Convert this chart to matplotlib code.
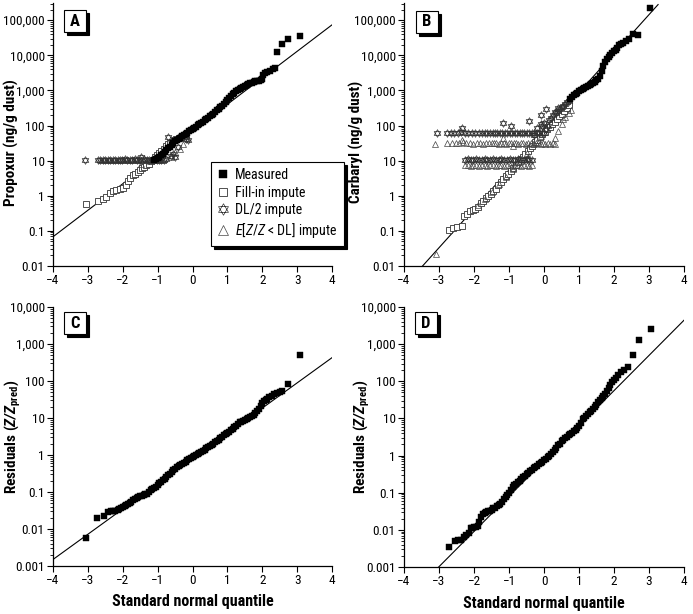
import matplotlib
matplotlib.use('Agg')
import matplotlib.pyplot as plt
from matplotlib import font_manager
from matplotlib.path import Path
from matplotlib.patches import Rectangle
from matplotlib.ticker import LogLocator, NullFormatter
from matplotlib.transforms import offset_copy

# ---------------- data ----------------
x_ticks = [-4, -3, -2, -1, 0, 1, 2, 3, 4]
x_tick_labels = ['\u22124', '\u22123', '\u22122', '\u22121', '0', '1', '2', '3', '4']
y_ticks_ab = [0.01, 0.1, 1, 10, 100, 1000, 10000, 100000]
y_labels_ab = ['0.01', '0.1', '1', '10', '100', '1,000', '10,000', '100,000']
y_ticks_cd = [0.001, 0.01, 0.1, 1, 10, 100, 1000, 10000]
y_labels_cd = ['0.001', '0.01', '0.1', '1', '10', '100', '1,000', '10,000']
legend_labels = ['Measured', 'Fill-in impute', 'DL/2 impute',
                 r'$\mathit{E}$[$\mathit{Z/Z}$ < DL] impute']

# Panel A (propoxur)
line_a_x = [-4, 4]
line_a_y = [0.068, 74000]
meas_a_x = [-1.10, -1.05, -1.00, -0.95, -0.90, -0.85, -0.80, -0.75, -0.70, -0.65, -0.60, -0.55,
            -0.50, -0.45, -0.40, -0.35, -0.30, -0.25, -0.20, -0.15, -0.10, -0.05, 0.00, 0.05,
            0.10, 0.15, 0.20, 0.25, 0.30, 0.35, 0.40, 0.45, 0.50, 0.55, 0.60, 0.65, 0.70, 0.75,
            0.80, 0.85, 0.90, 0.95, 1.00, 1.05, 1.10, 1.15, 1.20, 1.25, 1.30, 1.35, 1.40, 1.45,
            1.50, 1.55, 1.60, 1.65, 1.70, 1.75, 1.80, 1.85, 1.90, 1.95, 2.00, 2.03, 2.08, 2.15,
            2.22, 2.30, 2.37, 2.43, 2.57, 2.74, 3.09]
meas_a_y = [10.5, 11.2, 12.0, 12.9, 14.1, 15.8, 17.8, 20.0, 22.4, 25.1, 28.2, 31.6,
            35.5, 38.9, 42.7, 45.7, 50, 54, 59, 63, 69, 74, 79, 87,
            93, 102, 110, 120, 129, 141, 151, 166, 182, 200, 219, 245, 269, 302,
            331, 372, 417, 479, 537, 617, 692, 776, 851, 955, 1050, 1120, 1200, 1260,
            1320, 1410, 1480, 1580, 1660, 1740, 1820, 1860, 1910, 2000, 2140, 2820, 3160, 3390,
            3630, 3980, 4470, 12600, 20400, 30200, 36300]
fill_a_x = [-3.06, -2.71, -2.58, -2.47, -2.38, -2.28, -2.18, -2.09, -2.00, -1.92, -1.85, -1.78,
            -1.71, -1.64, -1.57, -1.51, -1.44, -1.38, -1.32, -1.25, -1.19, -1.13, -1.07, -1.01,
            -0.95, -0.89, -0.83, -0.77, -0.71, -0.65, -0.59, -0.53, -0.46, -0.39, -0.32, -0.25, -0.18]
fill_a_y = [0.57, 0.70, 0.82, 0.93, 1.2, 1.35, 1.5, 1.6, 1.65, 2.0, 2.6, 3.2,
            3.8, 4.3, 4.9, 5.4, 6.0, 6.7, 7.4, 8.3, 9.5, 10.7, 12.5, 14.5,
            17, 19, 22, 26, 29, 32, 35, 38, 41, 44, 47, 49, 50]
dl2_a_x = [-3.08, -2.72, -2.64, -2.57, -2.50, -2.43, -2.36, -2.29, -2.22, -2.15, -2.08, -2.01,
           -1.94, -1.87, -1.80, -1.73, -1.66, -1.59, -1.52, -1.47, -1.38, -1.31, -1.24, -1.17,
           -1.10, -1.03, -0.96, -0.89, -0.82, -0.75, -0.70, -0.62, -0.56, -0.50, -0.42, -0.20, -0.13]
dl2_a_y = [10.5, 10.5, 10.4, 10.5, 10.4, 10.5, 10.4, 10.5, 10.6, 10.5, 10.6, 10.5,
           10.8, 10.6, 10.7, 10.6, 10.8, 10.6, 10.7, 12.6, 10.8, 10.6, 10.5, 10.4,
           10.5, 10.4, 10.5, 10.4, 10.5, 11.0, 47, 14, 16, 13, 25, 42, 40]
tri_a_x = [-2.61, -2.54, -2.47, -2.40, -2.33, -2.26, -2.19, -2.12, -2.05, -1.98, -1.91, -1.84,
           -1.77, -1.70, -1.63, -1.56, -1.49, -1.47, -1.42, -1.35, -1.28, -1.21, -1.14, -1.07,
           -1.00, -0.93, -0.86, -0.62, -0.50, -0.37, -0.28, -0.20]
tri_a_y = [10.2, 10.3, 10.2, 10.3, 10.2, 10.3, 10.2, 10.3, 10.2, 10.3, 10.2, 10.3,
           10.2, 10.3, 10.2, 10.3, 10.2, 8.3, 10.3, 10.2, 10.3, 10.2, 10.3, 10.2,
           10.3, 10.2, 10.3, 13, 18, 21, 30, 45]

# Panel B (carbaryl)
line_b_x = [-3.47, 3.26]
line_b_y = [0.01, 280000]
meas_b_x = [0.75, 0.80, 0.85, 0.90, 0.95, 1.00, 1.05, 1.10, 1.15, 1.20, 1.25, 1.30, 1.35, 1.40,
            1.45, 1.50, 1.55, 1.60, 1.65, 1.70, 1.75, 1.80, 1.85, 1.90, 1.95, 2.00, 2.05, 2.10,
            2.15, 2.20, 2.27, 2.35, 2.42, 2.54, 2.70, 3.02]
meas_b_y = [562, 661, 724, 794, 871, 955, 1050, 1120, 1200, 1260, 1320, 1410, 1510, 1620,
            1780, 1950, 2190, 2630, 3550, 5010, 6610, 7940, 9120, 10200, 11500, 12900, 14500, 16600,
            19100, 20900, 22900, 26300, 30200, 39800, 38900, 224000]
fill_b_x = [-2.72, -2.59, -2.48, -2.34, -2.28, -2.20, -2.11, -2.03, -1.96, -1.88, -1.80, -1.73,
            -1.66, -1.59, -1.52, -1.45, -1.38, -1.31, -1.24, -1.16, -1.09, -1.02, -0.95, -0.88,
            -0.81, -0.74, -0.67, -0.60, -0.53, -0.46, -0.40, -0.33, -0.26, -0.19, -0.12, -0.05,
            0.02, 0.09, 0.16, 0.23, 0.30, 0.37, 0.44, 0.51, 0.58, 0.65, 0.72]
fill_b_y = [0.107, 0.12, 0.13, 0.14, 0.26, 0.30, 0.36, 0.40, 0.42, 0.49, 0.62, 0.72,
            0.85, 1.0, 1.15, 1.35, 1.6, 2.0, 2.4, 3.0, 3.6, 4.3, 5.1, 6.2,
            7.5, 9.0, 11, 13, 16, 19, 23, 27, 33, 40, 48, 56,
            65, 78, 92, 110, 130, 155, 185, 220, 265, 320, 390]
dl2_b_x = [-3.07, -2.76, -2.66, -2.56, -2.46, -2.36, -2.26, -2.16, -2.06, -1.96, -1.87, -1.78,
           -1.70, -1.62, -1.54, -1.47, -1.40, -1.33, -1.26, -1.19, -1.12, -1.05, -0.98, -0.91,
           -0.84, -0.77, -0.70, -0.63, -0.56, -0.49, -0.42, -0.35, -0.28, -0.21, -0.14, -0.07, 0.00,
           -2.26, -2.18, -2.10, -2.02, -1.94, -1.86, -1.78, -1.70, -1.62, -1.54, -1.46, -1.38,
           -1.30, -1.22, -1.14, -1.06, -0.98, -0.90, -0.82, -0.74, -0.66, -0.58, -0.50, -0.42, -0.35,
           -2.35, -1.18, -0.93, -0.44, -0.08, 0.07, 0.40,
           -0.30, -0.20, -0.10, -0.05, 0.00, 0.05, 0.10, 0.15, 0.20, 0.25, 0.30, 0.35, 0.40,
           0.45, 0.50, 0.55, 0.60, 0.65, 0.70]
dl2_b_y = [62, 62, 63, 61, 62, 64, 62, 61, 62, 63, 62, 61,
           62, 63, 62, 61, 62, 63, 62, 61, 63, 62, 61, 62,
           63, 62, 61, 62, 63, 62, 61, 62, 63, 62, 61, 62, 62,
           10.7, 10.8, 10.6, 10.7, 10.8, 10.6, 10.7, 10.8, 10.6, 10.7, 10.8, 10.6,
           10.7, 10.8, 10.6, 10.7, 10.8, 10.6, 10.7, 10.8, 10.6, 10.7, 10.8, 10.6, 10.7,
           87, 115, 96, 132, 200, 300, 310,
           55, 85, 110, 95, 120, 80, 100, 140, 165, 200, 240, 230, 260,
           290, 330, 370, 420, 460, 510]
tri_b_x = [-3.12, -2.76, -2.64, -2.52, -2.42, -2.32, -2.22, -2.12, -2.02, -1.92, -1.83, -1.74,
           -1.66, -1.58, -1.50, -1.43, -1.36, -1.29, -1.22, -1.15, -1.08, -1.01, -0.94, -0.87,
           -0.80, -0.73, -0.66, -0.59, -0.52, -0.45, -0.38, -0.31, -0.24, -0.17, -0.10, -0.03,
           0.04, 0.11, 0.18, 0.25, 0.32,
           -2.26, -2.18, -2.10, -2.02, -1.94, -1.86, -1.78, -1.70, -1.62, -1.54, -1.46, -1.38,
           -1.30, -1.22, -1.14, -1.06, -0.98, -0.90, -0.82, -0.74, -0.66, -0.58, -0.50, -0.42, -0.35,
           -3.10, -2.35, -1.18, -0.89,
           -1.90, -1.70, -1.50, -1.30, -1.10, -0.90, -0.70, -0.50, -0.30, -0.10,
           0.30, 0.40, 0.50, 0.55, 0.60, 0.70, 0.78]
tri_b_y = [30, 31, 31, 32, 31, 33, 31, 31, 30, 31, 31, 30,
           31, 31, 32, 31, 31, 30, 31, 31, 30, 31, 31, 32,
           31, 30, 31, 31, 30, 31, 31, 30, 31, 31, 30, 31,
           30, 31, 30, 31, 30,
           7.3, 7.4, 7.2, 7.3, 7.4, 7.2, 7.3, 7.4, 7.2, 7.3, 7.4, 7.2,
           7.3, 7.4, 7.2, 7.3, 7.4, 7.2, 7.3, 7.4, 7.2, 7.3, 7.4, 7.2, 7.3,
           0.022, 40, 45, 27,
           0.55, 0.8, 1.25, 2.1, 3.4, 5.8, 9.8, 17, 29, 50,
           45, 70, 110, 150, 180, 230, 280]

# Panel C (residuals, propoxur)
line_c_x = [-4, 4]
line_c_y = [0.0015, 427]
meas_c_x = [-3.06, -2.73, -2.54, -2.42, -2.35, -2.28, -2.22, -2.15, -2.10, -2.05, -2.00, -1.95,
            -1.90, -1.85, -1.80, -1.75, -1.70, -1.65, -1.60, -1.55, -1.50, -1.45, -1.40, -1.35,
            -1.30, -1.25, -1.20, -1.15, -1.10, -1.05, -1.00, -0.95, -0.90, -0.85, -0.80, -0.75,
            -0.70, -0.65, -0.60, -0.55, -0.50, -0.45, -0.40, -0.35, -0.30, -0.25, -0.20, -0.15,
            -0.10, -0.05, 0.00, 0.05, 0.10, 0.15, 0.20, 0.25, 0.30, 0.35, 0.40, 0.45,
            0.50, 0.55, 0.60, 0.65, 0.70, 0.75, 0.80, 0.85, 0.90, 0.95, 1.00, 1.05,
            1.10, 1.15, 1.20, 1.25, 1.30, 1.35, 1.40, 1.45, 1.50, 1.55, 1.60, 1.65,
            1.70, 1.75, 1.80, 1.85, 1.90, 1.95, 2.00, 2.05, 2.10, 2.15, 2.20, 2.27,
            2.35, 2.43, 2.52, 2.58, 2.73, 3.07]
meas_c_y = [0.0057, 0.020, 0.022, 0.029, 0.030, 0.031, 0.031, 0.032, 0.034, 0.037, 0.040, 0.042,
            0.045, 0.048, 0.051, 0.055, 0.059, 0.063, 0.068, 0.072, 0.076, 0.079, 0.083, 0.087,
            0.091, 0.10, 0.11, 0.12, 0.13, 0.14, 0.15, 0.17, 0.19, 0.21, 0.23, 0.26,
            0.28, 0.31, 0.35, 0.39, 0.42, 0.46, 0.49, 0.53, 0.57, 0.61, 0.66, 0.71,
            0.76, 0.82, 0.88, 0.93, 0.98, 1.05, 1.1, 1.2, 1.3, 1.4, 1.5, 1.6,
            1.75, 1.9, 2.0, 2.2, 2.4, 2.6, 2.8, 3.1, 3.4, 3.7, 4.0, 4.3,
            4.7, 5.1, 5.6, 6.2, 6.9, 7.6, 8.0, 8.5, 9.0, 9.5, 10.0, 10.7,
            11.5, 12.3, 13.5, 15, 17, 21, 25, 28, 31, 33, 36, 40,
            44, 48, 52, 54, 85, 500]

# Panel D (residuals, carbaryl)
line_d_x = [-3.01, 4.02]
line_d_y = [0.001, 4600]
meas_d_x = [-2.72, -2.55, -2.45, -2.38, -2.30, -2.22, -2.15, -2.10, -2.05, -2.00, -1.95, -1.90,
            -1.85, -1.80, -1.75, -1.70, -1.65, -1.60, -1.55, -1.50, -1.45, -1.40, -1.35, -1.30,
            -1.25, -1.20, -1.15, -1.10, -1.05, -1.00, -0.95, -0.90, -0.85, -0.80, -0.75, -0.70,
            -0.65, -0.60, -0.55, -0.50, -0.45, -0.40, -0.35, -0.30, -0.25, -0.20, -0.15, -0.10,
            -0.05, 0.00, 0.05, 0.10, 0.15, 0.20, 0.25, 0.30, 0.35, 0.40, 0.45, 0.50,
            0.55, 0.60, 0.65, 0.70, 0.75, 0.80, 0.85, 0.90, 0.95, 1.00, 1.05, 1.10,
            1.15, 1.20, 1.25, 1.30, 1.35, 1.40, 1.45, 1.50, 1.55, 1.60, 1.65, 1.70,
            1.75, 1.80, 1.85, 1.90, 1.95, 2.00, 2.05, 2.12, 2.20, 2.30, 2.40, 2.54, 2.72, 3.07]
meas_d_y = [0.0035, 0.0050, 0.0052, 0.0055, 0.0065, 0.0075, 0.0085, 0.011, 0.0115, 0.012, 0.012, 0.013,
            0.016, 0.022, 0.026, 0.029, 0.031, 0.032, 0.033, 0.035, 0.038, 0.040, 0.043, 0.046,
            0.051, 0.057, 0.066, 0.077, 0.089, 0.10, 0.12, 0.14, 0.16, 0.17, 0.19, 0.21,
            0.23, 0.26, 0.29, 0.32, 0.35, 0.38, 0.41, 0.45, 0.49, 0.53, 0.58, 0.63,
            0.68, 0.74, 0.82, 0.90, 1.0, 1.1, 1.25, 1.4, 1.6, 1.9, 2.1, 2.4,
            2.7, 2.9, 3.2, 3.5, 3.8, 4.1, 4.5, 5.0, 5.6, 6.3, 7.5, 9.5,
            10.5, 11.5, 13, 14.5, 16, 18, 20, 23, 27, 31, 35, 40,
            46, 55, 68, 80, 95, 110, 125, 150, 180, 200, 250, 500, 1300, 2600]

# ---------------- fonts ----------------
avail = {f.name for f in font_manager.fontManager.ttflist}
FONT = next((f for f in ['Liberation Sans Narrow', 'Roboto Condensed', 'Liberation Sans']
             if f in avail), 'DejaVu Sans')
plt.rcParams['font.family'] = [FONT, 'DejaVu Sans']
plt.rcParams['mathtext.fontset'] = 'custom'
plt.rcParams['mathtext.rm'] = FONT
plt.rcParams['mathtext.it'] = FONT + ':italic'
plt.rcParams['mathtext.bf'] = FONT + ':bold'
plt.rcParams['mathtext.bfit'] = FONT + ':italic:bold'

# hexagram marker (two interlaced triangles)
hex_verts = [(0, 1), (-0.866, -0.5), (0.866, -0.5), (0, 1),
             (0, -1), (-0.866, 0.5), (0.866, 0.5), (0, -1)]
hex_codes = [Path.MOVETO, Path.LINETO, Path.LINETO, Path.CLOSEPOLY] * 2
HEX = Path(hex_verts, hex_codes)

fig = plt.figure(figsize=(6.93, 6.14), dpi=100)
axA = fig.add_axes([0.0765, 0.5668, 0.4026, 0.4283])
axB = fig.add_axes([0.583, 0.5668, 0.404, 0.4283])
axC = fig.add_axes([0.0765, 0.0782, 0.4026, 0.4218])
axD = fig.add_axes([0.583, 0.0765, 0.404, 0.4235])

meas_kw = dict(ls='none', marker='s', ms=3.7, mfc='black', mec='black', mew=0.3, zorder=4)
fill_kw = dict(ls='none', marker='s', ms=3.8, mfc='white', mec='#333333', mew=0.6, zorder=3)
dl2_kw = dict(ls='none', marker=HEX, ms=5.5, mfc='none', mec='#333333', mew=0.5, zorder=3)
tri_kw = dict(ls='none', marker='^', ms=4.5, mfc='none', mec='#444444', mew=0.5, zorder=3)
line_kw = dict(color='black', lw=0.8, zorder=2)


def style(ax, ylim, yt, yl):
    ax.set_yscale('log')
    ax.set_xlim(-4, 4)
    ax.set_ylim(*ylim)
    ax.set_xticks(x_ticks)
    ax.set_xticklabels(x_tick_labels)
    ax.set_yticks(yt)
    ax.set_yticklabels(yl)
    ax.yaxis.set_minor_locator(LogLocator(base=10, subs=range(2, 10), numticks=50))
    ax.yaxis.set_minor_formatter(NullFormatter())
    for s in ['top', 'right']:
        ax.spines[s].set_visible(False)
    for s in ['left', 'bottom']:
        ax.spines[s].set_linewidth(0.9)
    ax.tick_params(which='major', direction='out', length=4, width=0.8, labelsize=9.5, pad=2)
    ax.tick_params(which='minor', direction='out', length=2, width=0.6)


def letter_box(ax, letter, cx, cy):
    bb = ax.get_position()
    wpx = bb.width * fig.get_figwidth() * fig.dpi
    hpx = bb.height * fig.get_figheight() * fig.dpi
    w, h = 22 / wpx, 22 / hpx
    sh = offset_copy(ax.transAxes, fig=fig, x=3, y=-3, units='dots')
    ax.add_patch(Rectangle((cx - w / 2, cy - h / 2), w, h, transform=sh, fc='black', ec='black',
                           lw=0.8, clip_on=False, zorder=8))
    ax.add_patch(Rectangle((cx - w / 2, cy - h / 2), w, h, transform=ax.transAxes, fc='white',
                           ec='black', lw=0.8, clip_on=False, zorder=9))
    ax.text(cx, cy, letter, transform=ax.transAxes, ha='center', va='center',
            fontsize=12, fontweight='bold', zorder=10)


def ylab(ax, text, x, y):
    ax.set_ylabel(text, fontsize=11, fontweight='bold', va='center', ha='center')
    ax.yaxis.set_label_coords(x, y)


def xlab(ax, text, x, y):
    ax.set_xlabel(text, fontsize=11.5, fontweight='bold', va='center', ha='center')
    ax.xaxis.set_label_coords(x, y)


# Panel A
style(axA, (0.01, 3.1e5), y_ticks_ab, y_labels_ab)
axA.plot(line_a_x, line_a_y, **line_kw)
h_fill, = axA.plot(fill_a_x, fill_a_y, **fill_kw)
h_tri, = axA.plot(tri_a_x, tri_a_y, **tri_kw)
h_dl2, = axA.plot(dl2_a_x, dl2_a_y, **dl2_kw)
h_meas, = axA.plot(meas_a_x, meas_a_y, **meas_kw)
ylab(axA, 'Propoxur (ng/g dust)', -0.15, 0.47)
letter_box(axA, 'A', 0.079, 0.93)
leg = axA.legend([h_meas, h_fill, h_dl2, h_tri], legend_labels, loc='lower left',
                 bbox_to_anchor=(0.566, 0.076), frameon=True, fancybox=False, edgecolor='black',
                 framealpha=1, shadow={'color': 'black', 'alpha': 1}, fontsize=10,
                 handlelength=0.8, handletextpad=0.5, labelspacing=0.25, borderpad=0.45,
                 markerscale=1.5, borderaxespad=0)
leg.get_frame().set_linewidth(0.8)

# Panel B
style(axB, (0.01, 3.1e5), y_ticks_ab, y_labels_ab)
axB.plot(line_b_x, line_b_y, **line_kw)
axB.plot(fill_b_x, fill_b_y, **fill_kw)
axB.plot(tri_b_x, tri_b_y, **tri_kw)
axB.plot(dl2_b_x, dl2_b_y, **dl2_kw)
axB.plot(meas_b_x, meas_b_y, **meas_kw)
ylab(axB, 'Carbaryl (ng/g dust)', -0.17, 0.47)
letter_box(axB, 'B', 0.081, 0.929)

# Panel C
style(axC, (0.001, 10000), y_ticks_cd, y_labels_cd)
axC.plot(line_c_x, line_c_y, **line_kw)
axC.plot(meas_c_x, meas_c_y, **meas_kw)
ylab(axC, r'Residuals ($\mathbfit{Z/Z}_{\mathbf{pred}}$)', -0.145, 0.5)
xlab(axC, 'Standard normal quantile', 0.5, -0.139)
letter_box(axC, 'C', 0.08, 0.938)

# Panel D
style(axD, (0.001, 10000), y_ticks_cd, y_labels_cd)
axD.plot(line_d_x, line_d_y, **line_kw)
axD.plot(meas_d_x, meas_d_y, **meas_kw)
ylab(axD, r'Residuals ($\mathbfit{Z/Z}_{\mathbf{pred}}$)', -0.152, 0.5)
xlab(axD, 'Standard normal quantile', 0.5, -0.139)
letter_box(axD, 'D', 0.078, 0.937)

fig.savefig('out.png', dpi=100, facecolor='white')
